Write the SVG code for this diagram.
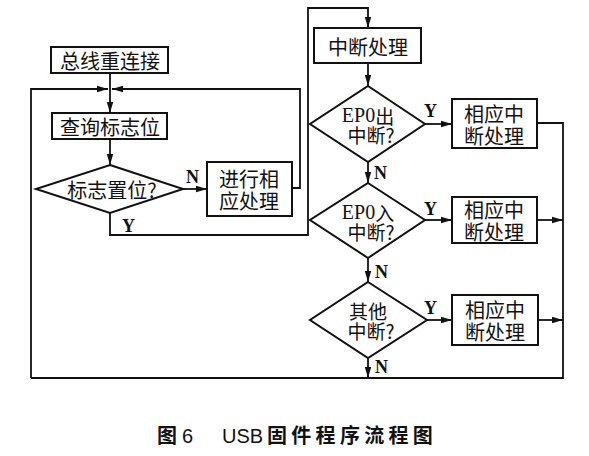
<svg xmlns="http://www.w3.org/2000/svg" width="589" height="456" viewBox="0 0 589 456">
<style>
.box{fill:#fff;stroke:#111;stroke-width:2}
.ln{fill:none;stroke:#111;stroke-width:1.8}
.t{font-family:"Noto Sans CJK SC","Liberation Serif",serif;font-size:20px;fill:#111;text-anchor:middle;dominant-baseline:central}
.d{font-family:"Noto Sans CJK SC","Liberation Serif",serif;font-size:19px;fill:#111;text-anchor:middle;dominant-baseline:central}
.s{font-family:"Liberation Serif",serif;font-size:20px}
.lb{font-family:"Liberation Serif",serif;font-size:18px;font-weight:bold;fill:#111;dominant-baseline:central}
.cap{font-family:"Noto Sans CJK SC","Liberation Sans",sans-serif;font-size:20px;font-weight:bold;fill:#111}
.capl{font-family:"Liberation Sans",sans-serif;font-size:20px;fill:#111}
</style>
<defs>
<marker id="ar" markerUnits="userSpaceOnUse" markerWidth="12" markerHeight="8" refX="11" refY="4" orient="auto">
<path d="M0,0.8 L11,4 L0,7.2 Z" fill="#111"/>
</marker>
</defs>
<g id="connectors">
<path class="ln" d="M110,73 V113" marker-end="url(#ar)"/>
<path class="ln" d="M31,378 V89 H108" marker-end="url(#ar)"/>
<path class="ln" d="M292,188 H300 V89 H112" marker-end="url(#ar)"/>
<path class="ln" d="M110,139 V165" marker-end="url(#ar)"/>
<path class="ln" d="M183,189 H207" marker-end="url(#ar)"/>
<path class="ln" d="M110,213 V235 H308 V8 H368 V28" marker-end="url(#ar)"/>
<path class="ln" d="M368,63 V86" marker-end="url(#ar)"/>
<path class="ln" d="M425,124 H452" marker-end="url(#ar)"/>
<path class="ln" d="M368,162 V183" marker-end="url(#ar)"/>
<path class="ln" d="M425,220 H452" marker-end="url(#ar)"/>
<path class="ln" d="M368,258 V282" marker-end="url(#ar)"/>
<path class="ln" d="M427,320 H452" marker-end="url(#ar)"/>
<path class="ln" d="M368,358 V378" marker-end="url(#ar)"/>
<path class="ln" d="M537,123 H563 V378 H31"/>
<path class="ln" d="M537,220 H563" marker-end="url(#ar)"/>
<path class="ln" d="M538,320 H563" marker-end="url(#ar)"/>
<text class="lb" x="186" y="177">N</text>
<text class="lb" x="122" y="226">Y</text>
<text class="lb" x="424" y="111">Y</text>
<text class="lb" x="374" y="173">N</text>
<text class="lb" x="424" y="209">Y</text>
<text class="lb" x="375" y="272">N</text>
<text class="lb" x="424" y="308">Y</text>
<text class="lb" x="375" y="367">N</text>
</g>
<g id="n_reconnect">
<rect class="box" x="51" y="47" width="117" height="26"/>
<text class="t" x="110" y="60">总线重连接</text>
</g>
<g id="n_query">
<rect class="box" x="52" y="113" width="115" height="26"/>
<text class="t" x="110" y="126">查询标志位</text>
</g>
<g id="n_flag">
<polygon class="box" points="110,165 183,189 110,213 36,189"/>
<text class="t" x="112" y="189">标志置位?</text>
</g>
<g id="n_handle">
<rect class="box" x="207" y="162" width="85" height="54"/>
<text class="t" x="249" y="178">进行相</text>
<text class="t" x="249" y="200">应处理</text>
</g>
<g id="n_int">
<rect class="box" x="314" y="28" width="107" height="35"/>
<text class="t" x="368" y="46">中断处理</text>
</g>
<g id="n_ep0out">
<polygon class="box" points="368,86 425,124 368,162 310,124"/>
<text class="d" x="368" y="115"><tspan class="s">EP0</tspan>出</text>
<text class="d" x="371" y="134">中断?</text>
</g>
<g id="n_h1">
<rect class="box" x="452" y="99" width="85" height="49"/>
<text class="t" x="494" y="113">相应中</text>
<text class="t" x="494" y="135">断处理</text>
</g>
<g id="n_ep0in">
<polygon class="box" points="368,183 425,220 368,258 310,220"/>
<text class="d" x="368" y="212"><tspan class="s">EP0</tspan>入</text>
<text class="d" x="371" y="231">中断?</text>
</g>
<g id="n_h2">
<rect class="box" x="452" y="197" width="85" height="46"/>
<text class="t" x="494" y="209">相应中</text>
<text class="t" x="494" y="231">断处理</text>
</g>
<g id="n_other">
<polygon class="box" points="368,282 427,320 368,358 310,320"/>
<text class="d" x="368" y="310">其他</text>
<text class="d" x="371" y="330">中断?</text>
</g>
<g id="n_h3">
<rect class="box" x="452" y="295" width="86" height="50"/>
<text class="t" x="495" y="309">相应中</text>
<text class="t" x="495" y="331">断处理</text>
</g>
<g id="caption">
<text class="cap" x="157" y="443">图</text>
<text class="capl" x="182" y="443">6</text>
<text class="capl" x="222" y="443">USB</text>
<text class="cap" x="267" y="443" letter-spacing="4.3">固件程序流程图</text>
</g>
</svg>
